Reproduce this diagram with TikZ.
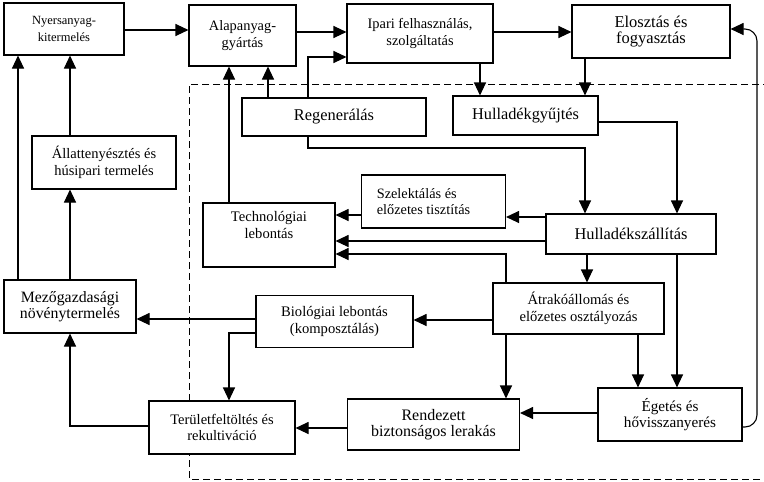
\documentclass[tikz,border=0pt]{standalone}
\usepackage{fontspec}
\setmainfont{Liberation Serif}
\usetikzlibrary{arrows.meta}
\begin{document}
\begin{tikzpicture}[x=1pt,y=-1pt,
  box/.style={draw, fill=white, line width=1.1pt, inner sep=0pt, align=center},
  fs/.style={font={\fontsize{#1pt}{16.5pt}\selectfont}},
  arr/.style={line width=1.1pt, -{Triangle[length=13pt,width=12pt]}},
  dashbox/.style={line width=1pt, dash pattern=on 7pt off 4pt}]
\useasboundingbox (0,0) rectangle (764,482);
% dashed frame
\draw[dashbox] (770,84) -- (189,84) -- (189,479) -- (770,479);
% boxes
\node[box, fs=12.5, minimum width=120pt, minimum height=52pt] (nyers) at (64,29) {Nyersanyag-\\kitermelés};
\node[box, fs=14.4, minimum width=107pt, minimum height=61pt] (alap) at (242.5,35.5) {Alapanyag-\\gyártás};
\node[box, fs=14.4, minimum width=146pt, minimum height=59pt] (ipari) at (420,33.5) {Ipari felhasználás,\\szolgáltatás};
\node[box, fs=16.5, minimum width=158pt, minimum height=53pt] (eloszt) at (651,31.5) {Elosztás és\\fogyasztás};
\node[box, fs=16.4, minimum width=184pt, minimum height=38pt] (regen) at (334,117) {Regenerálás};
\node[box, fs=16.3, minimum width=145pt, minimum height=39pt] (gyujt) at (525.5,115.5) {Hulladékgyűjtés};
\node[box, fs=14.5, minimum width=144pt, minimum height=53pt] (allat) at (104,162.5) {Állattenyésztés és\\húsipari termelés};
\node[box, fs=14.3, minimum width=144pt, minimum height=53pt, align=left] (szelek) at (433.5,201.5) {Szelektálás és\\előzetes tisztítás\hspace*{20pt}};
\node[box, fs=14.6, minimum width=132pt, minimum height=64pt] (techn) at (269,235) {Technológiai\\lebontás\\[4pt]};
\node[box, fs=16.4, minimum width=170pt, minimum height=40pt] (szall) at (631,234) {Hulladékszállítás};
\node[box, fs=15.8, minimum width=132pt, minimum height=53pt] (mezo) at (70,306.5) {Mezőgazdasági\\növénytermelés};
\node[box, fs=14.6, minimum width=157pt, minimum height=52pt] (bio) at (334.5,321.5) {Biológiai lebontás\\(komposztálás)};
\node[box, fs=14.6, minimum width=171pt, minimum height=51pt] (atrak) at (578.5,308.5) {Átrakóállomás és\\előzetes osztályozás};
\node[box, fs=14.5, minimum width=146pt, minimum height=53pt] (terul) at (222,427.5) {Területfeltöltés és\\rekultiváció};
\node[box, fs=16.0, minimum width=172pt, minimum height=51pt] (rend) at (433.5,424.5) {Rendezett\\biztonságos lerakás};
\node[box, fs=15.2, minimum width=144pt, minimum height=53pt] (eget) at (670,414.5) {Égetés és\\hővisszanyerés};
% connectors, top row
\draw[arr] (nyers.east |- 0,30) -- (alap.west |- 0,30);
\draw[arr] (alap.east |- 0,32) -- (ipari.west |- 0,32);
\draw[arr] (ipari.east |- 0,32) -- (eloszt.west |- 0,32);
\draw[arr] (regen.north -| 308,0) |- (ipari.west |- 0,57);
\draw[arr] (regen.north -| 268,0) -- (alap.south -| 268,0);
\draw[arr] (techn.north -| 229,0) -- (alap.south -| 229,0);
\draw[arr] (ipari.south -| 480,0) -- (gyujt.north -| 480,0);
\draw[arr] (eloszt.south -| 585,0) -- (gyujt.north -| 585,0);
% waste collection to transport
\draw[arr] (regen.south -| 308,0) |- (585,148) -- (szall.north -| 585,0);
\draw[arr] (gyujt.east |- 0,122) -| (szall.north -| 677,0);
% transport outputs
\draw[arr] (szall.west |- 0,217) -- (szelek.east |- 0,217);
\draw[arr] (szelek.west |- 0,215) -- (techn.east |- 0,215);
\draw[arr] (szall.west |- 0,241) -- (techn.east |- 0,241);
\draw[arr] (atrak.north -| 506,0) |- (techn.east |- 0,254);
\draw[arr] (szall.south -| 587,0) -- (atrak.north -| 587,0);
\draw[arr] (szall.south -| 677,0) -- (eget.north -| 677,0);
\draw[arr] (atrak.south -| 638,0) -- (eget.north -| 638,0);
\draw[arr] (atrak.south -| 506,0) -- (rend.north -| 506,0);
\draw[arr] (atrak.west |- 0,320) -- (bio.east |- 0,320);
\draw[arr] (bio.west |- 0,319) -- (mezo.east |- 0,319);
\draw[arr] (bio.west |- 0,333) -| (terul.north -| 229,0);
\draw[arr] (eget.west |- 0,413) -- (rend.east |- 0,413);
\draw[arr] (rend.west |- 0,428) -- (terul.east |- 0,428);
\draw[arr] (terul.west |- 0,426) -| (mezo.south -| 70,0);
% left column
\draw[arr] (mezo.north -| 18,0) -- (nyers.south -| 18,0);
\draw[arr] (mezo.north -| 70,0) -- (allat.south -| 70,0);
\draw[arr] (allat.north -| 70,0) -- (nyers.south -| 70,0);
% feedback from incineration to distribution
\draw[arr, rounded corners=12pt] (eget.east |- 0,427) -- (757,427) -- (757,29) -- (eloszt.east |- 0,29);
\end{tikzpicture}
\end{document}
